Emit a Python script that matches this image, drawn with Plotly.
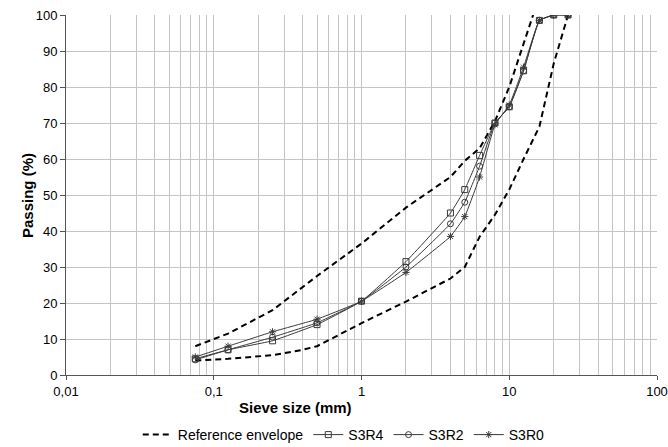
import plotly.graph_objects as go

sieve = [0.075, 0.125, 0.25, 0.5, 1, 2, 4, 5, 6.3, 8, 10, 12.5, 16, 20, 25]
s3r4 = [4.5, 7, 9.5, 14, 20.5, 31.5, 45, 51.5, 61, 70, 74.5, 84.5, 98.5, 100, 100]
s3r2 = [4.2, 7, 10.5, 14.5, 20.5, 30, 42, 48, 58, 70, 74.5, 84.5, 98.5, 100, 100]
s3r0 = [5, 8, 12, 15.5, 20.5, 28.5, 38.5, 44, 55, 69.5, 75, 85.5, 98.5, 100, 100]

env_up_x = [0.075, 0.125, 0.25, 0.5, 1, 2, 4, 5, 6.3, 8, 10, 12.5, 14.5]
env_up_y = [8, 11.5, 18, 27.5, 36.5, 46.5, 55, 59.5, 63, 70.5, 80, 92, 100]
env_lo_x = [0.075, 0.125, 0.25, 0.4, 0.5, 1, 2, 4, 5, 6.3, 8, 10, 12.5, 16, 20, 25]
env_lo_y = [4, 4.5, 5.5, 7, 8, 14.4, 20.4, 26.8, 30, 38.4, 44.5, 51.5, 60, 69, 86.5, 100]

x_tickvals = [0.01, 0.1, 1, 10, 100]
x_ticktext = ["0,01", "0,1", "1", "10", "100"]

FONT = "Liberation Sans, Arial, sans-serif"
LC = "#3a3a3a"

fig = go.Figure()
fig.add_trace(go.Scatter(x=env_up_x, y=env_up_y, mode="lines", name="Reference envelope",
                         line=dict(color="black", width=2, dash="6px,4px", shape="linear"),
                         legendgroup="env"))
fig.add_trace(go.Scatter(x=env_lo_x, y=env_lo_y, mode="lines", name="Reference envelope",
                         line=dict(color="black", width=2, dash="6px,4px", shape="linear"),
                         legendgroup="env", showlegend=False))
for name, ys, sym in [("S3R4", s3r4, "square-open"), ("S3R2", s3r2, "circle-open"),
                      ("S3R0", s3r0, "asterisk-open")]:
    fig.add_trace(go.Scatter(x=sieve, y=ys, mode="lines+markers", name=name,
                             line=dict(color=LC, width=1, shape="spline", smoothing=0.3),
                             marker=dict(symbol=sym, size=6, color=LC, line=dict(color=LC, width=1))))

fig.update_layout(
    width=668, height=447,
    margin=dict(l=66, r=11, t=15, b=72, autoexpand=False),
    paper_bgcolor="white", plot_bgcolor="white",
    font=dict(family=FONT, size=13, color="black"),
    showlegend=True,
    legend=dict(orientation="h", x=0.47, xanchor="center",
                yref="container", y=(447 - 435) / 447, yanchor="middle",
                font=dict(size=14), itemwidth=30, tracegroupgap=0),
)
fig.update_xaxes(type="log", range=[-2, 2], tickvals=x_tickvals, ticktext=x_ticktext,
                 showgrid=True, gridcolor="#c4c4c4", gridwidth=1,
                 minor=dict(showgrid=True, gridcolor="#c4c4c4", gridwidth=1, dtick="D1"),
                 showline=True, linecolor="#555555", linewidth=1,
                 ticks="outside", ticklen=4, tickcolor="#555555", zeroline=False)
fig.update_yaxes(range=[0, 100], dtick=10, showgrid=True, gridcolor="#c4c4c4", gridwidth=1,
                 showline=True, linecolor="#555555", linewidth=1,
                 ticks="outside", ticklen=5, tickcolor="#555555", zeroline=False)

fig.add_annotation(text="<b>Sieve size (mm)</b>", xref="paper", yref="paper",
                   x=0.389, y=-0.089, xanchor="center", yanchor="middle", showarrow=False,
                   font=dict(size=15))
fig.add_annotation(text="<b>Passing (%)</b>", xref="paper", yref="paper",
                   x=-0.066, y=0.5, xanchor="center", yanchor="middle", textangle=-90,
                   showarrow=False, font=dict(size=15))

fig.write_html("out.html")
